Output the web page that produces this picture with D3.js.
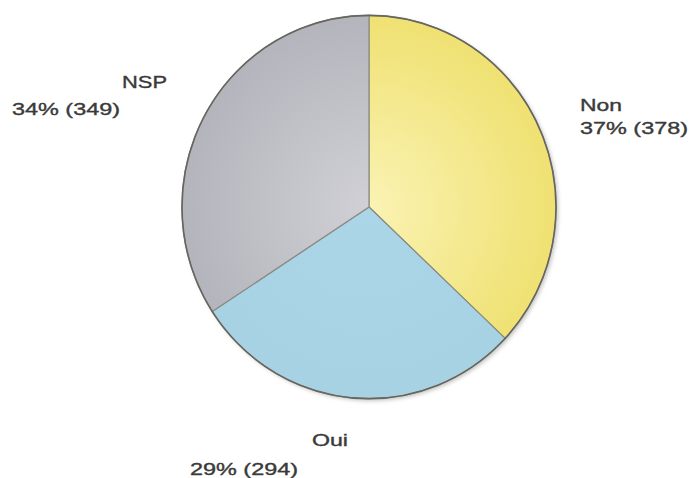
<!DOCTYPE html>
<html><head><meta charset="utf-8">
<script src="https://cdn.jsdelivr.net/npm/d3@7"></script>
<style>body{margin:0;background:#fff}</style>
</head><body>
<svg id="c" width="693" height="478"></svg>
<script>
const categories = ["Non", "Oui", "NSP"];
const values = [378, 294, 349];
const percentLabels = ["37%", "29%", "34%"];
const colorsCenter = ["#faf3b4", "#abd6e8", "#d0d0d6"];
const colorsEdge = ["#efe172", "#a6d2e4", "#b4b4bc"];

const svg = d3.select("#c");
const cx = 369, cy = 207, r = 187;
const defs = svg.append("defs");
categories.forEach((c, i) => {
  const g = defs.append("radialGradient").attr("id", "g" + i)
    .attr("gradientUnits", "userSpaceOnUse").attr("cx", 0).attr("cy", 0).attr("r", r);
  g.append("stop").attr("offset", "0%").attr("stop-color", colorsCenter[i]);
  g.append("stop").attr("offset", "100%").attr("stop-color", colorsEdge[i]);
});
const f = defs.append("filter").attr("id", "sh").attr("x", "-10%").attr("y", "-10%").attr("width", "120%").attr("height", "120%");
f.append("feGaussianBlur").attr("in", "SourceAlpha").attr("stdDeviation", 2);
f.append("feOffset").attr("dx", 2).attr("dy", 2).attr("result", "o");
f.append("feComponentTransfer").append("feFuncA").attr("type", "linear").attr("slope", 0.25);
const m = f.append("feMerge"); m.append("feMergeNode"); m.append("feMergeNode").attr("in", "SourceGraphic");

const pie = d3.pie().sort(null).value(d => d)(values);
const arc = d3.arc().innerRadius(0).outerRadius(r);
const g = svg.append("g").attr("transform", `translate(${cx},${cy}) scale(1,1.025)`);
g.append("circle").attr("r", r).attr("fill", "#fff").attr("filter", "url(#sh)");
g.selectAll("path.s").data(pie).join("path").attr("class", "s")
  .attr("d", arc).attr("fill", (d, i) => `url(#g${i})`)
  .attr("stroke", "#8a8a80").attr("stroke-width", 1.2).attr("stroke-linejoin", "round");
g.append("circle").attr("r", r).attr("fill", "none").attr("stroke", "#66665e").attr("stroke-width", 1.6);

const labelPos = [
  {nx: 580, ny: 111, nw: 42, vx: 580, vy: 134, vw: 108},
  {nx: 312, ny: 446, nw: 36, vx: 190, vy: 475, vw: 108},
  {nx: 122, ny: 88, nw: 45, vx: 12, vy: 115, vw: 108}
];
const lab = svg.append("g").attr("font-family", "Liberation Sans, Arial, sans-serif")
  .attr("font-size", 16).attr("fill", "#3a3a3a")
  .attr("stroke", "#3a3a3a").attr("stroke-width", 0.35);
categories.forEach((c, i) => {
  const p = labelPos[i];
  lab.append("text").attr("x", p.nx).attr("y", p.ny).text(c)
    .attr("textLength", p.nw).attr("lengthAdjust", "spacingAndGlyphs");
  lab.append("text").attr("x", p.vx).attr("y", p.vy).text(`${percentLabels[i]} (${values[i]})`)
    .attr("textLength", p.vw).attr("lengthAdjust", "spacingAndGlyphs");
});
</script>
</body></html>
